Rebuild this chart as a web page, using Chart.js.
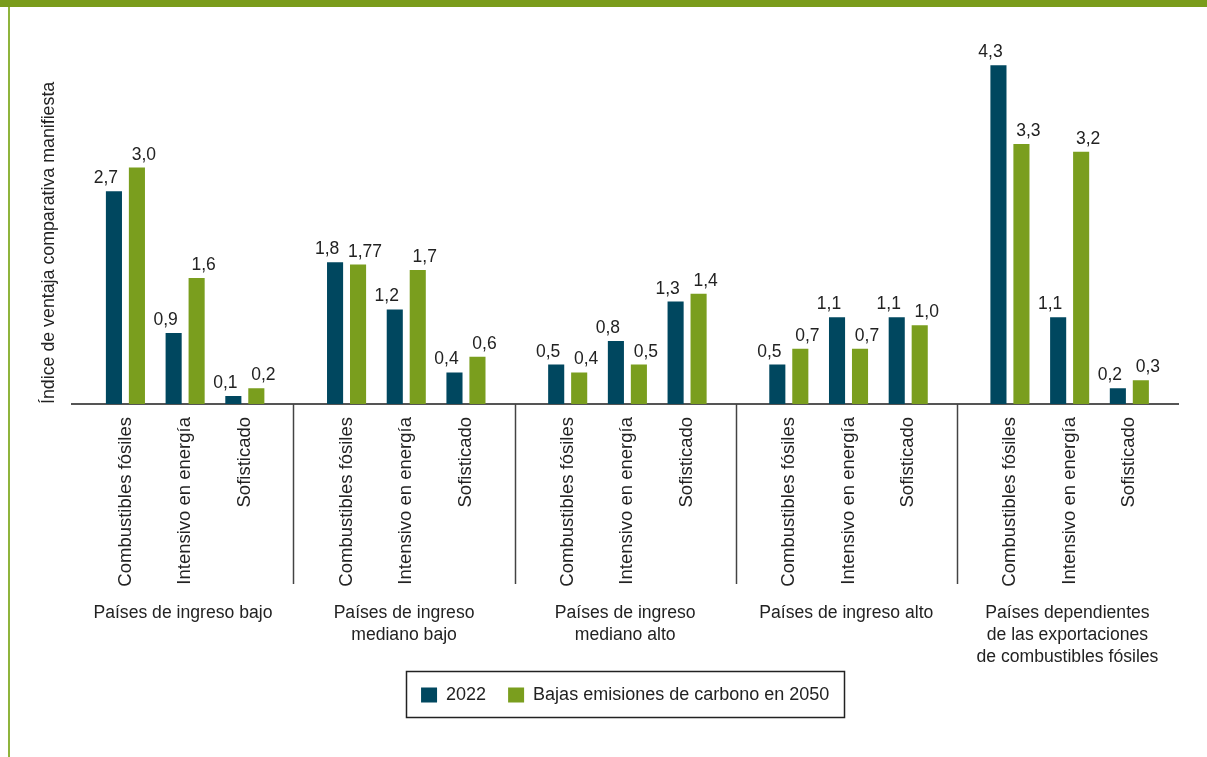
<!DOCTYPE html>
<html lang="es">
<head>
<meta charset="utf-8">
<title>Índice de ventaja comparativa manifiesta</title>
<script src="https://cdn.jsdelivr.net/npm/chart.js@4.4.0/dist/chart.umd.min.js"></script>
<style>
  html, body { margin: 0; padding: 0; background: #fff; }
  #wrap { position: relative; width: 1207px; height: 757px; overflow: hidden; }
  #chart { position: absolute; left: 0; top: 0; }
  #topBar { position: absolute; left: 0; top: 0; width: 1207px; height: 7px; background: #7a9c1b; }
  #leftBar { position: absolute; left: 8px; top: 7px; width: 2px; height: 750px; background: #8fb43c; }
</style>
</head>
<body>
<div id="wrap">
  <canvas id="chart" width="1207" height="757"></canvas>
  <div id="topBar"></div>
  <div id="leftBar"></div>
</div>
<script>
// data
const groupLabels = [
    ['Países de ingreso bajo'],
    ['Países de ingreso', 'mediano bajo'],
    ['Países de ingreso', 'mediano alto'],
    ['Países de ingreso alto'],
    ['Países dependientes', 'de las exportaciones', 'de combustibles fósiles']
];
const categories = ['Combustibles fósiles', 'Intensivo en energía', 'Sofisticado'];
const seriesNames = ['2022', 'Bajas emisiones de carbono en 2050'];
const values2022 = [2.7, 0.9, 0.1, 1.8, 1.2, 0.4, 0.5, 0.8, 1.3, 0.5, 1.1, 1.1, 4.3, 1.1, 0.2];
const values2050 = [3.0, 1.6, 0.2, 1.77, 1.7, 0.6, 0.4, 0.5, 1.4, 0.7, 0.7, 1.0, 3.3, 3.2, 0.3];

const DARK = '#00475f';
const GREEN = '#7a9e1e';
const TEXT = '#222222';
const FONT = '"Liberation Sans", Arial, sans-serif';

Chart.defaults.font.family = FONT;
Chart.defaults.font.size = 17.5;
Chart.defaults.color = TEXT;

// each group is one unit on the x axis, the three categories sit inside it
const xPos = values2022.map((v, i) => Math.floor(i / 3) + 0.51 + (i % 3 - 1) * 0.27);

function fmt(v) {
    const s = Number.isInteger(Math.round(v * 100) / 10) ? v.toFixed(1) : v.toFixed(2);
    return s.replace('.', ',');
}

// value labels over the bars
const valueLabels = {
    id: 'valueLabels',
    afterDatasetsDraw(chart) {
        const ctx = chart.ctx;
        ctx.save();
        ctx.font = '17.5px ' + FONT;
        ctx.fillStyle = TEXT;
        ctx.textAlign = 'center';
        ctx.textBaseline = 'alphabetic';
        chart.data.datasets.forEach((ds, d) => {
            const meta = chart.getDatasetMeta(d);
            const shift = d === 0 ? -8 : 7;
            meta.data.forEach((bar, i) => {
                ctx.fillText(fmt(ds.data[i].y), bar.x + shift, bar.y - 8);
            });
        });
        ctx.restore();
    }
};

// group separators, group names and the legend frame
const groupDecor = {
    id: 'groupDecor',
    afterDraw(chart) {
        const ctx = chart.ctx;
        const xs = chart.scales.x;
        const bottom = chart.chartArea.bottom;
        ctx.save();
        ctx.strokeStyle = '#444';
        ctx.lineWidth = 1.5;
        for (let g = 1; g < groupLabels.length; g++) {
            const px = Math.round(xs.getPixelForValue(g)) + 0.5;
            ctx.beginPath();
            ctx.moveTo(px, bottom);
            ctx.lineTo(px, bottom + 180);
            ctx.stroke();
        }
        ctx.font = '17.6px ' + FONT;
        ctx.fillStyle = TEXT;
        ctx.textAlign = 'center';
        ctx.textBaseline = 'alphabetic';
        groupLabels.forEach((lines, g) => {
            const cx = xs.getPixelForValue(g + 0.5);
            lines.forEach((line, j) => ctx.fillText(line, cx, bottom + 214 + j * 22));
        });

        const boxes = chart.legend.legendHitBoxes;
        if (boxes && boxes.length) {
            const left = Math.min(...boxes.map(b => b.left));
            const right = Math.max(...boxes.map(b => b.left + b.width));
            const top = boxes[0].top;
            ctx.strokeStyle = '#222';
            ctx.lineWidth = 1.5;
            ctx.strokeRect(Math.round(left - 15) + 0.5, Math.round(top - 15) + 0.5,
                Math.round(right - left + 30), 46);
        }
        ctx.restore();
    }
};

const ctx = document.getElementById('chart').getContext('2d');
new Chart(ctx, {
    type: 'bar',
    data: {
        datasets: [
            {
                label: seriesNames[0],
                data: values2022.map((v, i) => ({ x: xPos[i], y: v })),
                backgroundColor: DARK,
                borderWidth: 0
            },
            {
                label: seriesNames[1],
                data: values2050.map((v, i) => ({ x: xPos[i], y: v })),
                backgroundColor: GREEN,
                borderWidth: 0
            }
        ]
    },
    options: {
        responsive: false,
        animation: false,
        categoryPercentage: 0.77,
        barPercentage: 0.7,
        layout: {
            padding: { top: 10, left: 34, right: 29, bottom: 43 }
        },
        plugins: {
            legend: {
                position: 'bottom',
                fullSize: false,
                labels: {
                    boxWidth: 16,
                    boxHeight: 15,
                    padding: 22,
                    color: TEXT,
                    font: { size: 18 }
                }
            },
            tooltip: { enabled: false }
        },
        scales: {
            x: {
                type: 'linear',
                offset: false,
                min: 0,
                max: groupLabels.length,
                grid: { display: false, drawTicks: false, offset: false },
                border: { display: true, color: '#555', width: 2 },
                afterBuildTicks: scale => {
                    scale.ticks = xPos.map(v => ({ value: v }));
                },
                afterFit: scale => {
                    scale.height = 260;
                },
                ticks: {
                    autoSkip: false,
                    minRotation: 90,
                    maxRotation: 90,
                    padding: 13,
                    color: TEXT,
                    font: { size: 18.5 },
                    callback: (value, index) => categories[index % 3]
                }
            },
            y: {
                min: 0,
                max: 5,
                grid: { display: false },
                border: { display: false },
                ticks: { display: false },
                title: {
                    display: true,
                    text: 'Índice de ventaja comparativa manifiesta',
                    align: 'start',
                    color: TEXT,
                    font: { size: 17.8 },
                    padding: { top: 4, bottom: 5 }
                }
            }
        }
    },
    plugins: [valueLabels, groupDecor]
});
</script>
</body>
</html>
